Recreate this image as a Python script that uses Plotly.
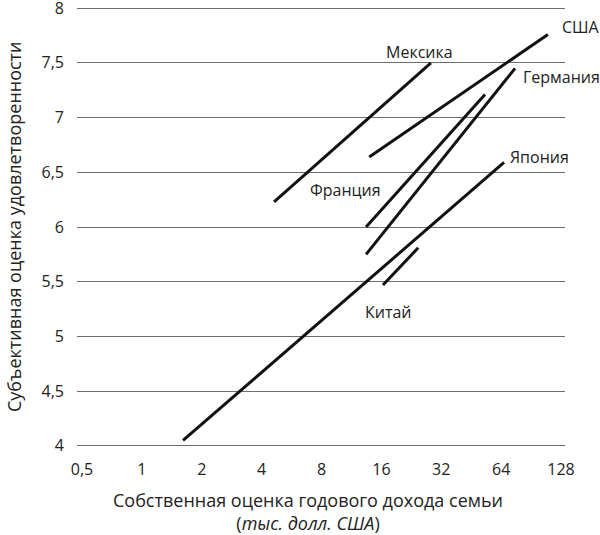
import math
import plotly.graph_objects as go

# Data: line segments (income in thousand USD, log scale; satisfaction score)
countries = ["Мексика", "США", "Германия", "Франция", "Япония", "Китай"]
income_start = [4.62, 13.9, 13.4, 13.4, 1.61, 16.3]
income_end = [28.4, 110.0, 75.2, 53.1, 66.2, 24.5]
score_start = [6.23, 6.64, 5.75, 6.00, 4.05, 5.47]
score_end = [7.50, 7.76, 7.45, 7.21, 6.59, 5.81]

# label anchor positions (data coords)
label_x = [25.0, 126.0, 128.0, 10.6, 99.3, 17.3]
label_y = [7.60, 7.83, 7.37, 6.34, 6.64, 5.22]
label_anchor = ["center", "left", "center", "center", "center", "center"]

x_ticks = [0.5, 1, 2, 4, 8, 16, 32, 64, 128]
x_ticktext = ["0,5", "1", "2", "4", "8", "16", "32", "64", "128"]
y_ticks = [4, 4.5, 5, 5.5, 6, 6.5, 7, 7.5, 8]
y_ticktext = ["4", "4,5", "5", "5,5", "6", "6,5", "7", "7,5", "8"]

FONT = "Open Sans"
TXT = "#222222"

fig = go.Figure()
for i, c in enumerate(countries):
    fig.add_trace(go.Scatter(
        x=[income_start[i], income_end[i]],
        y=[score_start[i], score_end[i]],
        mode="lines",
        line=dict(color="#111111", width=3),
        name=c,
        showlegend=False,
        hoverinfo="skip",
    ))
    fig.add_annotation(
        x=math.log10(label_x[i]), y=label_y[i],
        text=c, showarrow=False, xanchor=label_anchor[i], yanchor="middle",
        font=dict(family=FONT, size=16, color=TXT),
    )

fig.add_annotation(
    xref="paper", yref="paper", x=0.473, y=0, yshift=-38,
    xanchor="center", yanchor="top",
    text="Собственная оценка годового дохода семьи<br>(<i>тыс. долл. США</i>)",
    showarrow=False, font=dict(family=FONT, size=18, color=TXT),
)
fig.add_annotation(
    xref="paper", yref="paper", x=0, y=0.5, xshift=-63,
    xanchor="center", yanchor="middle", textangle=-90,
    text="Субъективная оценка удовлетворенности",
    showarrow=False, font=dict(family=FONT, size=18, color=TXT),
)

fig.update_xaxes(
    type="log", range=[-0.3262, 2.1273],
    tickvals=x_ticks, ticktext=x_ticktext,
    showgrid=False, zeroline=False, showline=False,
    ticks="", ticklabelstandoff=10, automargin=False,
    tickfont=dict(family=FONT, size=16, color=TXT),
)
fig.update_yaxes(
    range=[3.98, 8.02],
    tickvals=y_ticks, ticktext=y_ticktext,
    showgrid=True, gridcolor="#6e6e6e", gridwidth=1,
    zeroline=False, showline=False,
    ticks="", ticklabelstandoff=12, ticklabeloverflow="allow",
    automargin=False,
    tickfont=dict(family=FONT, size=16, color=TXT),
)
fig.update_layout(
    width=600, height=535,
    margin=dict(l=77, r=35, t=5.8, b=86.8),
    plot_bgcolor="white", paper_bgcolor="white",
)
fig.write_html(
    "out.html",
    config={"displayModeBar": False},
    post_script="document.body.style.margin='0';document.body.style.overflow='hidden';",
)
